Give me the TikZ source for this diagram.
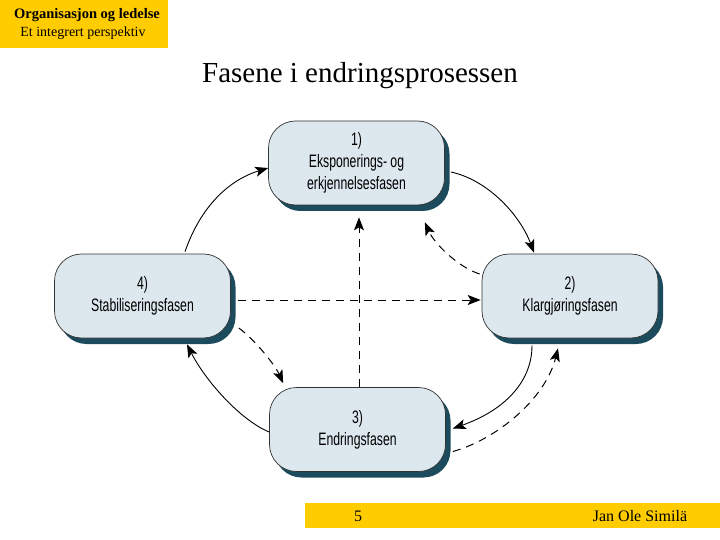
\documentclass[tikz,border=0pt]{standalone}
\usepackage{fontspec}
\setmainfont{Liberation Serif}
\newfontfamily\nodefont{Liberation Sans}[FakeStretch=0.68]
\usetikzlibrary{arrows.meta,shadows,calc}
\definecolor{hdryellow}{HTML}{FFCC00}
\definecolor{phaseface}{HTML}{DCE7EE}
\definecolor{phaseshadow}{HTML}{1B4B5C}
\tikzset{
  phase/.style={draw=black!80, line width=0.7pt, fill=phaseface, rounded corners=27pt,
    minimum width=176pt, minimum height=84pt, align=center,
    font=\nodefont\fontsize{18}{22}\selectfont,
    general shadow={fill=phaseshadow, shadow xshift=5pt, shadow yshift=-6pt}},
  cycle/.style={line width=0.9pt, -{Stealth[length=13pt,width=10pt,inset=3pt]}},
  flow/.style={line width=1pt, dash pattern=on 8pt off 6pt, -{Stealth[length=13pt,width=10pt,inset=3pt]}},
}
\begin{document}
\begin{tikzpicture}[x=1pt,y=-1pt]
\useasboundingbox (0,0) rectangle (720,540);
% header
\fill[hdryellow] (0,0) rectangle (168,48);
\node[font=\fontsize{14.5}{16}\selectfont\bfseries] (hdr1) at (87,15) {Organisasjon og ledelse};
\node[font=\fontsize{14}{16}\selectfont] (hdr2) at (83,33) {Et integrert perspektiv};
\node[font=\fontsize{29}{32}\selectfont] (title) at (360,76) {Fasene i endringsprosessen};
% footer
\fill[hdryellow] (305,503) rectangle (720,528);
\node[font=\fontsize{16}{18}\selectfont] (pg) at (358,516) {5};
\node[font=\fontsize{16}{18}\selectfont] (auth) at (640,516) {Jan Ole Similä};
% phases
\node[phase] (n1) at (356.5,163) {1)\\Eksponerings- og\\erkjennelsesfasen};
\node[phase] (n2) at (570,296) {2)\\Klargjøringsfasen};
\node[phase] (n3) at (357.5,429.5) {3)\\Endringsfasen};
\node[phase] (n4) at (142.5,296) {4)\\Stabiliseringsfasen};
% cycle arrows
\draw[cycle] ($(n4.north)+(42.5,-2)$) .. controls (203,200) and (235,178) .. ($(n1.west)+(0,5)$);
\draw[cycle] ($(n1.east)+(6,9)$) .. controls (488,180) and (520,215) .. ($(n2.north)+(-36,-1)$);
\draw[cycle] ($(n2.south)+(-38,7)$) .. controls (532,385) and (500,412) .. ($(n3.east)+(7,-1)$);
\draw[cycle] ($(n3.west)+(0,2.5)$) .. controls (240,420) and (205,380) .. ($(n4.south)+(44.5,6)$);
% dashed arrows
\draw[flow] ($(n3.north)+(1.5,0)$) -- ($(n1.south)+(2.5,12)$);
\draw[flow] ($(n4.east)+(7,4)$) -- ($(n2.west)+(-1,4)$);
\draw[flow] ($(n4.east)+(8,32)$) .. controls (255,340) and (275,365) .. ($(n3.north west)+(14,-4)$);
\draw[flow] ($(n2.west)+(-2,-22)$) .. controls (460,268) and (435,245) .. ($(n1.south east)+(-20,17)$);
\draw[flow] ($(n3.east)+(7,22)$) .. controls (495,440) and (545,400) .. ($(n2.south)+(-12,10)$);
\end{tikzpicture}
\end{document}
